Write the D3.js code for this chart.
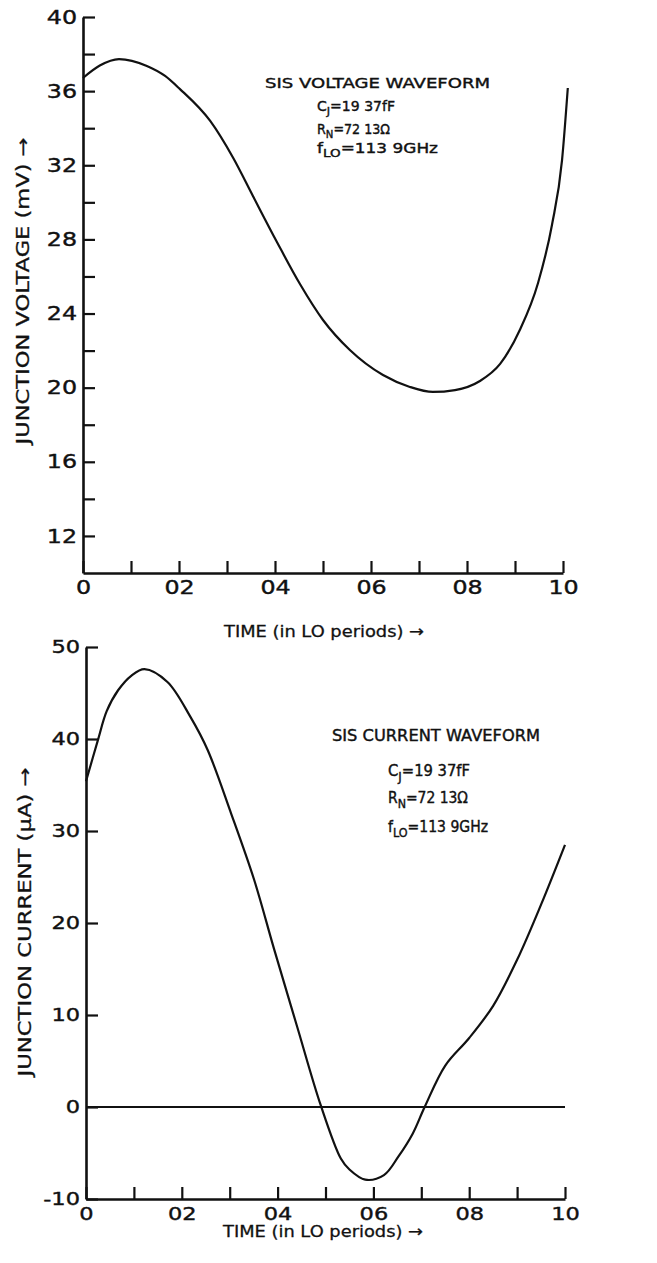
<!DOCTYPE html>
<html><head><meta charset="utf-8">
<script src="https://cdn.jsdelivr.net/npm/d3@7"></script>
<style>body{margin:0;background:#fff} svg{display:block} text{font-family:"DejaVu Sans",sans-serif;fill:#111}</style>
</head><body><svg id="c" width="657" height="1263"></svg>
<script>
// ---- data ----
const voltTime   = [0, 0.035, 0.075, 0.133, 0.171, 0.202, 0.265, 0.313, 0.354, 0.404, 0.452, 0.5, 0.556, 0.625, 0.681, 0.729, 0.775, 0.827, 0.869, 0.91, 0.948, 0.977, 0.998, 1.01];
const voltValues = [36.71, 37.38, 37.73, 37.36, 36.82, 36.11, 34.39, 32.39, 30.34, 27.86, 25.59, 23.65, 22.03, 20.68, 20.04, 19.77, 19.87, 20.36, 21.28, 23.11, 25.65, 28.78, 32.28, 36.17];
const currTime   = [0, 0.025, 0.043, 0.067, 0.095, 0.122, 0.17, 0.218, 0.254, 0.303, 0.351, 0.393, 0.441, 0.49, 0.532, 0.55, 0.583, 0.622, 0.652, 0.682, 0.707, 0.75, 0.8, 0.85, 0.9, 0.95, 1.0];
const currValues = [35.4, 39.9, 43.0, 45.3, 46.9, 47.6, 46.2, 42.4, 38.8, 31.9, 24.7, 17.1, 8.7, 0.2, -5.6, -6.8, -7.9, -7.4, -5.4, -2.9, 0, 4.5, 7.5, 11.0, 16.0, 22.0, 28.5];
const timeTicks      = [0,0.1,0.2,0.3,0.4,0.5,0.6,0.7,0.8,0.9,1.0];
const timeTickLabels = ["0","","02","","04","","06","","08","","10"];
const voltTicks      = [12,14,16,18,20,22,24,26,28,30,32,34,36,38,40];
const voltTickLabels = ["12","","16","","20","","24","","28","","32","","36","","40"];
const currTicks      = [-10,0,10,20,30,40,50];
const currTickLabels = ["-10","0","10","20","30","40","50"];

const svg = d3.select("#c");

function stretch(sel, k){
  sel.each(function(){
    const w = this.getComputedTextLength();
    if (w > 0) d3.select(this).attr("textLength", w*k).attr("lengthAdjust","spacingAndGlyphs");
  });
}

function panel(cfg){
  const x = d3.scaleLinear().domain([0,1]).range(cfg.xr);
  const y = d3.scaleLinear().domain(cfg.yd).range(cfg.yr);
  const g = svg.append("g");

  if (cfg.zero){
    g.append("line").attr("x1",x(0)).attr("x2",x(1)).attr("y1",y(0)).attr("y2",y(0))
      .attr("stroke","#111").attr("stroke-width",2);
  }

  const xa = g.append("g").attr("transform",`translate(0,${cfg.yr[0]})`)
    .call(d3.axisBottom(x).tickValues(timeTicks).tickSize(-12).tickSizeOuter(0).tickPadding(8)
      .tickFormat((d,i)=>timeTickLabels[i]));
  const ya = g.append("g").attr("transform",`translate(${cfg.xr[0]},0)`)
    .call(d3.axisLeft(y).tickValues(cfg.yt).tickSize(-12).tickSizeOuter(0).tickPadding(6)
      .tickFormat((d,i)=>cfg.yl[i]));
  [xa,ya].forEach(a=>{
    a.select(".domain").attr("stroke","#111").attr("stroke-width",2.6);
    a.selectAll(".tick line").attr("stroke","#111").attr("stroke-width",2.2);
    a.selectAll(".tick text").attr("font-size",cfg.tfs).attr("fill","#111")
      .attr("stroke","#111").attr("stroke-width",0.4)
      .style("font-family","DejaVu Sans");
  });
  xa.selectAll(".tick text").attr("dy","0.71em");
  stretch(xa.selectAll(".tick text"), 1.25);
  stretch(ya.selectAll(".tick text"), 1.25);

  const line = d3.line().x((d,i)=>x(cfg.t[i])).y(d=>y(d)).curve(cfg.curve);
  g.append("path").datum(cfg.v).attr("d",line).attr("fill","none")
    .attr("stroke","#111").attr("stroke-width",2.2);

  // axis titles
  g.append("text").attr("x",cfg.xt[0]).attr("y",cfg.xt[1]).attr("text-anchor","middle")
    .attr("font-size",16).attr("stroke","#111").attr("stroke-width",0.3)
    .attr("textLength",cfg.xt[2]).attr("lengthAdjust","spacingAndGlyphs")
    .text("TIME (in LO periods) \u2192");
  g.append("text").attr("transform",`translate(${cfg.ytl[0]},${cfg.ytl[1]}) rotate(-90)`)
    .attr("text-anchor","middle").attr("font-size",18).attr("stroke","#111").attr("stroke-width",0.3)
    .attr("textLength",cfg.ytl[2])
    .attr("lengthAdjust","spacingAndGlyphs").text(cfg.ytitle);

  // annotation block
  const a = cfg.ann;
  g.append("text").attr("x",a.tx).attr("y",a.ty).attr("font-size",a.fs)
    .attr("stroke","#111").attr("stroke-width",0.4)
    .attr("textLength",a.tw).attr("lengthAdjust","spacingAndGlyphs").text(cfg.title);
  function sub(k, main, s, rest){
    const t = g.append("text").attr("x",a.px).attr("y",a.py[k]).attr("font-size",a.fs)
      .attr("stroke","#111").attr("stroke-width",0.4)
      .attr("textLength",a.pw[k]).attr("lengthAdjust","spacingAndGlyphs");
    t.append("tspan").text(main);
    t.append("tspan").attr("dy",a.fs*0.3).attr("font-size",a.fs*0.8).text(s);
    t.append("tspan").attr("dy",-a.fs*0.3).text(rest);
  }
  sub(0,"C","J","=19 37fF");
  sub(1,"R","N","=72 13\u03A9");
  sub(2,"f","LO","=113 9GHz");
}

panel({xr:[83,563], yd:[10,40], yr:[573,17], yt:voltTicks, yl:voltTickLabels, tfs:19,
  t:voltTime, v:voltValues, zero:false, curve:d3.curveMonotoneX,
  xt:[324,637,200], ytl:[29,291,307], ytitle:"JUNCTION VOLTAGE (mV) \u2192",
  title:"SIS  VOLTAGE  WAVEFORM",
  ann:{tx:265, ty:88, tw:225, fs:14, px:317, py:[111,134,153], pw:[78,73,121]}});

panel({xr:[86,565], yd:[-10,50], yr:[1199,647], yt:currTicks, yl:currTickLabels, tfs:18,
  t:currTime, v:currValues, zero:true, curve:d3.curveCatmullRom.alpha(0.5),
  xt:[323,1237,200], ytl:[31,922,309], ytitle:"JUNCTION CURRENT (\u03BCA) \u2192",
  title:"SIS  CURRENT  WAVEFORM",
  ann:{tx:332, ty:741, tw:208, fs:15, px:388, py:[776,803,832], pw:[82,80,100]}});
</script>
</body></html>
